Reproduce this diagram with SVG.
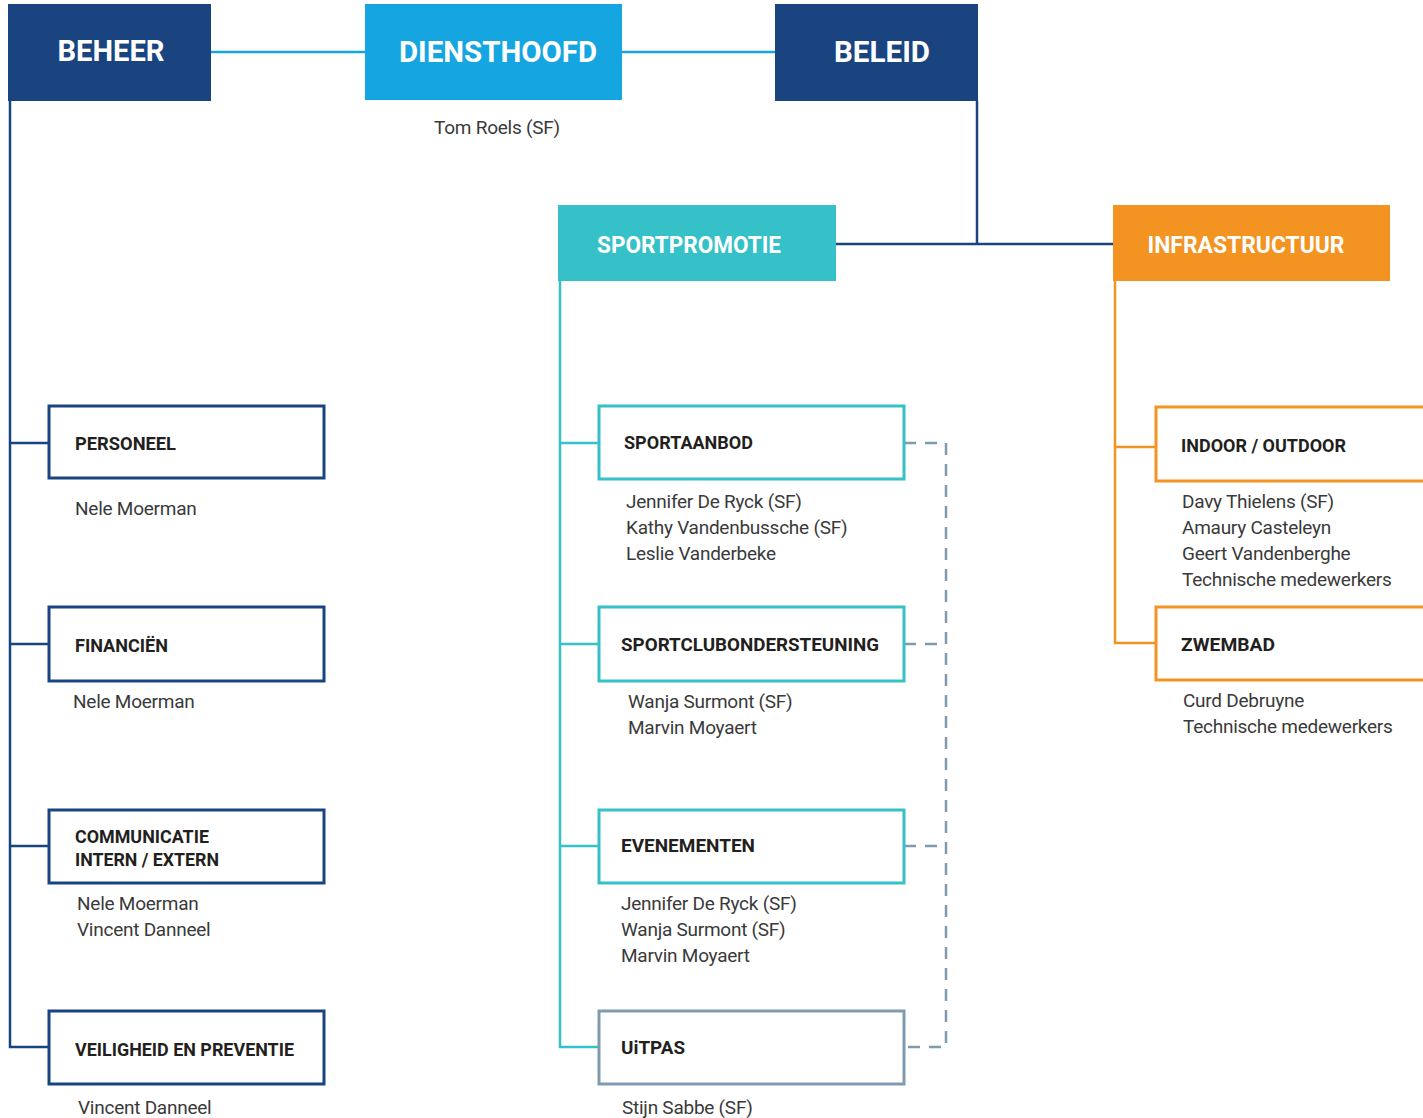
<svg xmlns="http://www.w3.org/2000/svg" width="1423" height="1118" viewBox="0 0 1423 1118">
<style>
.hdr{font-family:Roboto,"Liberation Sans",sans-serif;font-weight:bold;fill:#fff;text-anchor:middle}
.lbl{font-family:Roboto,"Liberation Sans",sans-serif;font-weight:bold;font-size:18px;fill:#231f20}
.nm{font-family:Roboto,"Liberation Sans",sans-serif;font-size:19px;letter-spacing:-0.25px;fill:#3a3a3a}
.bx{fill:#fff;stroke-width:3}
.blue{stroke:#1a4480}
.teal{stroke:#35c1c7}
.orange{stroke:#f39322}
.grey{stroke:#7f9bb0}
.ln{fill:none;stroke-width:2.5}
.dash{fill:none;stroke:#7f9bb0;stroke-width:2.5;stroke-dasharray:12,9}
</style>
<rect width="1423" height="1118" fill="#fff"/>
<g id="connectors">
<line class="ln" x1="211" y1="52" x2="365" y2="52" stroke="#15a5e0"/>
<line class="ln" x1="622" y1="52" x2="775" y2="52" stroke="#15a5e0"/>
<polyline class="ln blue" points="10,101 10,1047 49,1047"/>
<line class="ln blue" x1="10" y1="443" x2="49" y2="443"/>
<line class="ln blue" x1="10" y1="644" x2="49" y2="644"/>
<line class="ln blue" x1="10" y1="846" x2="49" y2="846"/>
<polyline class="ln blue" points="977,101 977,244"/>
<line class="ln blue" x1="836" y1="244" x2="1113" y2="244"/>
<polyline class="ln teal" points="560,281 560,1047 599,1047"/>
<line class="ln teal" x1="560" y1="443" x2="599" y2="443"/>
<line class="ln teal" x1="560" y1="644" x2="599" y2="644"/>
<line class="ln teal" x1="560" y1="846" x2="599" y2="846"/>
<polyline class="ln orange" points="1115,281 1115,643 1156,643"/>
<line class="ln orange" x1="1115" y1="447" x2="1156" y2="447"/>
<polyline class="dash" points="904,443 946,443 946,1047 904,1047"/>
<line class="dash" x1="904" y1="644" x2="946" y2="644"/>
<line class="dash" x1="904" y1="846" x2="946" y2="846"/>
</g>
<g id="beheer">
<rect x="8" y="4" width="203" height="97" fill="#1a4480"/>
<text class="hdr" x="111" y="61" font-size="29" textLength="107" lengthAdjust="spacingAndGlyphs">BEHEER</text>
</g>
<g id="diensthoofd">
<rect x="365" y="4" width="257" height="96" fill="#15a5e0"/>
<text class="hdr" x="498" y="62" font-size="29" textLength="198" lengthAdjust="spacingAndGlyphs">DIENSTHOOFD</text>
<text class="nm" x="497" y="134" text-anchor="middle">Tom Roels (SF)</text>
</g>
<g id="beleid">
<rect x="775" y="4" width="203" height="97" fill="#1a4480"/>
<text class="hdr" x="882" y="62" font-size="29" textLength="96" lengthAdjust="spacingAndGlyphs">BELEID</text>
</g>
<g id="sportpromotie">
<rect x="558" y="205" width="278" height="76" fill="#35c1c7"/>
<text class="hdr" x="689" y="253" font-size="24" textLength="184" lengthAdjust="spacingAndGlyphs">SPORTPROMOTIE</text>
</g>
<g id="infrastructuur">
<rect x="1113" y="205" width="277" height="76" fill="#f39322"/>
<text class="hdr" x="1246" y="253" font-size="24" textLength="197" lengthAdjust="spacingAndGlyphs">INFRASTRUCTUUR</text>
</g>
<g id="personeel">
<rect class="bx blue" x="49" y="406" width="275" height="72"/>
<text class="lbl" x="75" y="450" textLength="101" lengthAdjust="spacingAndGlyphs">PERSONEEL</text>
<text class="nm" x="75" y="515">Nele Moerman</text>
</g>
<g id="financien">
<rect class="bx blue" x="49" y="607" width="275" height="74"/>
<text class="lbl" x="75" y="652" textLength="93" lengthAdjust="spacingAndGlyphs">FINANCIËN</text>
<text class="nm" x="73" y="708">Nele Moerman</text>
</g>
<g id="communicatie">
<rect class="bx blue" x="49" y="810" width="275" height="73"/>
<text class="lbl" x="75" y="843" textLength="134" lengthAdjust="spacingAndGlyphs">COMMUNICATIE</text>
<text class="lbl" x="75" y="866" textLength="144" lengthAdjust="spacingAndGlyphs">INTERN / EXTERN</text>
<text class="nm" x="77" y="910">Nele Moerman</text>
<text class="nm" x="77" y="936">Vincent Danneel</text>
</g>
<g id="veiligheid">
<rect class="bx blue" x="49" y="1011" width="275" height="73"/>
<text class="lbl" x="75" y="1056" textLength="219" lengthAdjust="spacingAndGlyphs">VEILIGHEID EN PREVENTIE</text>
<text class="nm" x="78" y="1114">Vincent Danneel</text>
</g>
<g id="sportaanbod">
<rect class="bx teal" x="599" y="406" width="305" height="73"/>
<text class="lbl" x="624" y="449" textLength="129" lengthAdjust="spacingAndGlyphs">SPORTAANBOD</text>
<text class="nm" x="626" y="508">Jennifer De Ryck (SF)</text>
<text class="nm" x="626" y="534">Kathy Vandenbussche (SF)</text>
<text class="nm" x="626" y="560">Leslie Vanderbeke</text>
</g>
<g id="sportclubondersteuning">
<rect class="bx teal" x="599" y="607" width="305" height="74"/>
<text class="lbl" x="621" y="651" textLength="258" lengthAdjust="spacingAndGlyphs">SPORTCLUBONDERSTEUNING</text>
<text class="nm" x="628" y="708">Wanja Surmont (SF)</text>
<text class="nm" x="628" y="734">Marvin Moyaert</text>
</g>
<g id="evenementen">
<rect class="bx teal" x="599" y="810" width="305" height="73"/>
<text class="lbl" x="621" y="852" textLength="134" lengthAdjust="spacingAndGlyphs">EVENEMENTEN</text>
<text class="nm" x="621" y="910">Jennifer De Ryck (SF)</text>
<text class="nm" x="621" y="936">Wanja Surmont (SF)</text>
<text class="nm" x="621" y="962">Marvin Moyaert</text>
</g>
<g id="uitpas">
<rect class="bx grey" x="599" y="1011" width="305" height="73"/>
<text class="lbl" x="621" y="1054" textLength="64" lengthAdjust="spacingAndGlyphs">UiTPAS</text>
<text class="nm" x="622" y="1114">Stijn Sabbe (SF)</text>
</g>
<g id="indoor-outdoor">
<rect class="bx orange" x="1156" y="407" width="280" height="74"/>
<text class="lbl" x="1181" y="452" textLength="165" lengthAdjust="spacingAndGlyphs">INDOOR / OUTDOOR</text>
<text class="nm" x="1182" y="508">Davy Thielens (SF)</text>
<text class="nm" x="1182" y="534">Amaury Casteleyn</text>
<text class="nm" x="1182" y="560">Geert Vandenberghe</text>
<text class="nm" x="1182" y="586">Technische medewerkers</text>
</g>
<g id="zwembad">
<rect class="bx orange" x="1156" y="607" width="280" height="73"/>
<text class="lbl" x="1181" y="651" textLength="94" lengthAdjust="spacingAndGlyphs">ZWEMBAD</text>
<text class="nm" x="1183" y="707">Curd Debruyne</text>
<text class="nm" x="1183" y="733">Technische medewerkers</text>
</g>
</svg>
